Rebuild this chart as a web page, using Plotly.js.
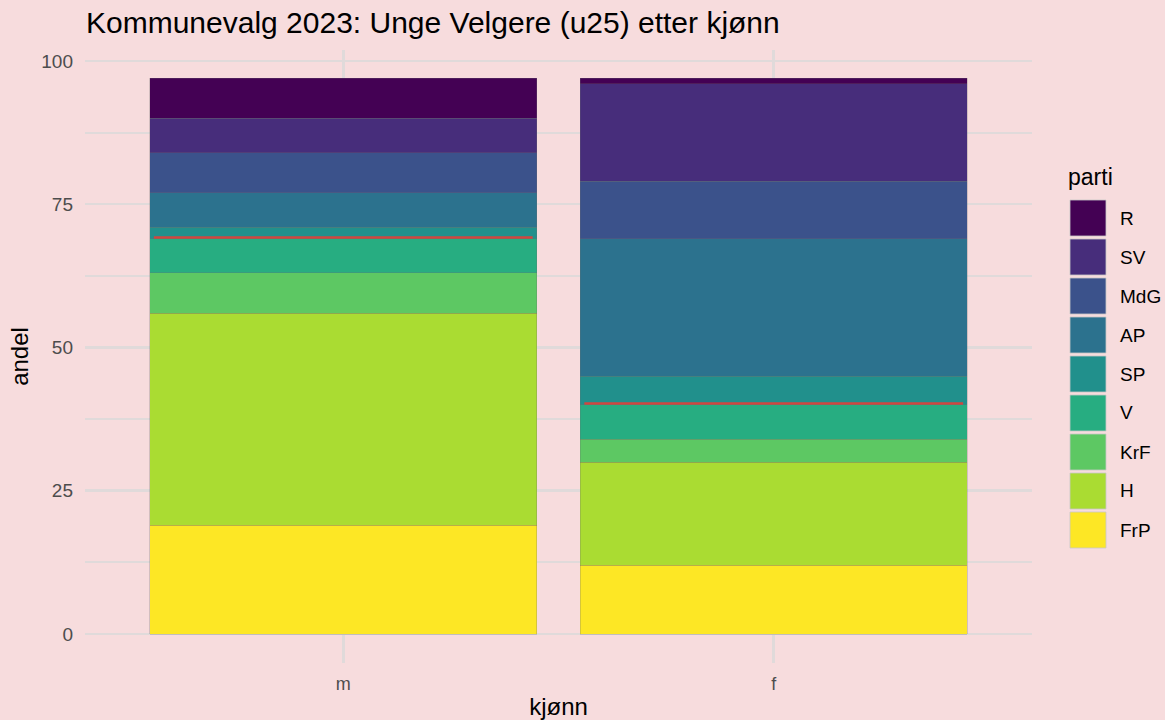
<!DOCTYPE html>
<html>
<head>
<meta charset="utf-8">
<script src="https://cdn.plot.ly/plotly-3.0.1.min.js"></script>
<style>
html,body{margin:0;padding:0;background:#f7dcdd;}
#chart{width:1165px;height:720px;}
</style>
</head>
<body>
<div id="chart"></div>
<script>
// Data
const kjonn = ["m", "f"];
const partier = ["FrP", "H", "KrF", "V", "SP", "AP", "MdG", "SV", "R"];
const FrP = [19, 12];
const H   = [37, 18];
const KrF = [7, 4];
const V   = [6, 6];
const SP  = [2, 5];
const AP  = [6, 24];
const MdG = [7, 10];
const SV  = [6, 17];
const R   = [7, 1];
const blokk = [69.2, 40.2];
const farger = ["#FDE725", "#AADC32", "#5DC863", "#27AD81", "#21908C", "#2C728E", "#3B528B", "#472D7B", "#440154"];

const verdier = {FrP, H, KrF, V, SP, AP, MdG, SV, R};

const traces = partier.map((p, i) => ({
  type: "bar",
  name: p,
  x: kjonn,
  y: verdier[p],
  width: 0.9,
  marker: {color: farger[i], line: {color: "rgba(110,110,110,0.45)", width: 0.6}},
  showlegend: false,
  hoverinfo: "x+y+name"
}));

// plot area geometry (pixels)
const W = 1165, Hh = 720;
const M = {l: 85, r: 133, t: 50, b: 57};
const pw = W - M.l - M.r, ph = Hh - M.t - M.b;
const px = x => (x - M.l) / pw;
const py = y => (Hh - M.b - y) / ph;

const shapes = [];
const annotations = [];

// red block lines
kjonn.forEach((k, i) => {
  shapes.push({
    type: "line", xref: "x", yref: "y",
    x0: i - 0.44, x1: i + 0.44, y0: blokk[i], y1: blokk[i],
    line: {color: "#d0473f", width: 2.5}
  });
});

// custom legend
const legOrder = partier.slice().reverse();
const legCols = farger.slice().reverse();
annotations.push({
  xref: "paper", yref: "paper", x: px(1066), y: py(177),
  xanchor: "left", yanchor: "middle", showarrow: false,
  text: "parti", font: {size: 23, color: "#000", family: "Liberation Sans, Arial, sans-serif"}
});
legOrder.forEach((p, i) => {
  const top = 200 + i * 39;
  shapes.push({
    type: "rect", xref: "paper", yref: "paper",
    x0: px(1070), x1: px(1106), y0: py(top + 36), y1: py(top),
    fillcolor: legCols[i], line: {color: "rgba(200,200,200,0.8)", width: 1}
  });
  annotations.push({
    xref: "paper", yref: "paper", x: px(1118), y: py(top + 18),
    xanchor: "left", yanchor: "middle", showarrow: false,
    text: p, font: {size: 19, color: "#000", family: "Liberation Sans, Arial, sans-serif"}
  });
});

const layout = {
  width: W, height: Hh,
  paper_bgcolor: "#f7dcdd",
  plot_bgcolor: "#f7dcdd",
  barmode: "stack",
  bargap: 0.1,
  showlegend: false,
  margin: M,
  font: {family: "Liberation Sans, Arial, sans-serif", color: "#000"},
  title: {
    text: "Kommunevalg 2023: Unge Velgere (u25) etter kjønn",
    x: 86 / W, xanchor: "left", y: 1 - 22 / Hh, yanchor: "middle",
    font: {size: 30, color: "#000"}
  },
  xaxis: {
    type: "category",
    range: [-0.6, 1.6],
    showgrid: true, gridcolor: "#e0dada", gridwidth: 2.5,
    zeroline: false, showline: false, ticks: "",
    ticklabelstandoff: 8,
    tickfont: {size: 18, color: "#4d4d4d"},
    title: {text: "kjønn", font: {size: 24, color: "#000"}, standoff: 10},
    fixedrange: true
  },
  yaxis: {
    range: [-5.06, 101.9],
    tickvals: [0, 25, 50, 75, 100],
    showgrid: true, gridcolor: "#e0dada", gridwidth: 2.5,
    minor: {tickvals: [12.5, 37.5, 62.5, 87.5], showgrid: true, gridcolor: "#e0dada", gridwidth: 2},
    zeroline: false, showline: false, ticks: "",
    ticklabelstandoff: 11,
    tickfont: {size: 19, color: "#4d4d4d"},
    title: {text: "andel", font: {size: 24, color: "#000"}, standoff: 5},
    fixedrange: true
  },
  shapes: shapes,
  annotations: annotations
};

Plotly.newPlot("chart", traces, layout, {displayModeBar: false, staticPlot: true});
</script>
</body>
</html>
